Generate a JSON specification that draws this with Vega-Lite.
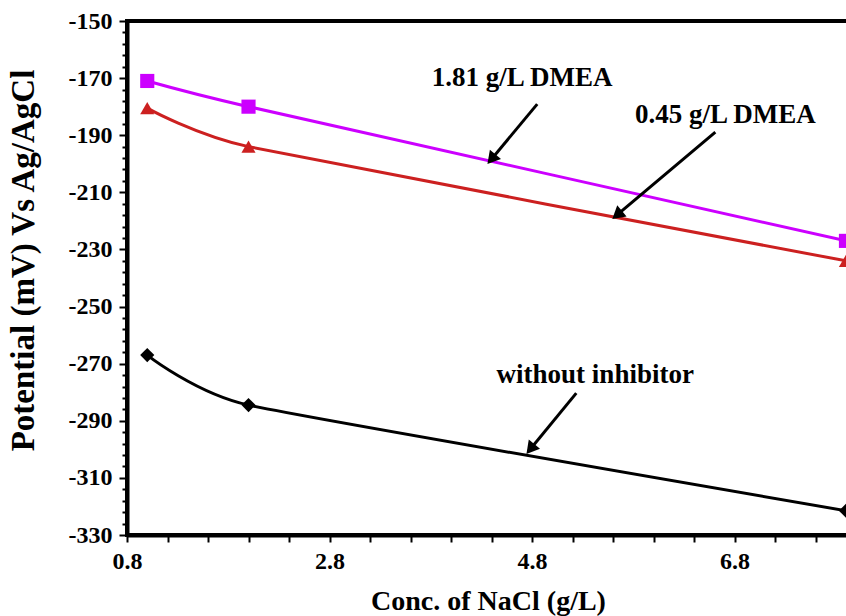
{
  "$schema": "https://vega.github.io/schema/vega-lite/v6.json",
  "width": 722,
  "height": 514,
  "autosize": {"type": "none"},
  "padding": {"left": 127, "top": 21, "right": 0, "bottom": 81},
  "background": "white",
  "config": {
    "view": {"stroke": "black", "strokeWidth": 4},
    "axis": {
      "domainColor": "black",
      "domainWidth": 4,
      "tickColor": "black",
      "tickWidth": 2,
      "grid": false,
      "labelFont": "Liberation Serif",
      "labelFontWeight": "bold",
      "labelFontSize": 24,
      "labelColor": "black",
      "labelOverlap": false,
      "labelFlush": false,
      "titleFont": "Liberation Serif",
      "titleFontWeight": "bold",
      "titleFontSize": 28,
      "titleColor": "black"
    }
  },
  "datasets": {
    "series": [
      {"conc": 1, "E": -171, "s": "1.81 g/L DMEA"},
      {"conc": 2, "E": -180, "s": "1.81 g/L DMEA"},
      {"conc": 7.9, "E": -227, "s": "1.81 g/L DMEA"},
      {"conc": 1, "E": -180.5, "s": "0.45 g/L DMEA"},
      {"conc": 2, "E": -194, "s": "0.45 g/L DMEA"},
      {"conc": 7.9, "E": -234, "s": "0.45 g/L DMEA"},
      {"conc": 1, "E": -267, "s": "without inhibitor"},
      {"conc": 2, "E": -284.5, "s": "without inhibitor"},
      {"conc": 7.9, "E": -321.5, "s": "without inhibitor"}
    ],
    "notes": [
      {"label": "1.81 g/L DMEA", "lx": 4.703, "ly": -170, "x1": 4.851, "y1": -179.1, "x2": 4.399, "y2": -198.4, "angle": 219.7},
      {"label": "0.45 g/L DMEA", "lx": 6.709, "ly": -182.9, "x1": 6.61, "y1": -188.9, "x2": 5.64, "y2": -217.9, "angle": 229.9},
      {"label": "without inhibitor", "lx": 5.424, "ly": -274, "x1": 5.237, "y1": -280.3, "x2": 4.784, "y2": -299.9, "angle": 219.2}
    ]
  },
  "layer": [
    {
      "data": {"name": "series"},
      "mark": {"type": "line", "interpolate": "cardinal", "tension": 0.55, "strokeWidth": 3},
      "encoding": {
        "x": {
          "field": "conc", "type": "quantitative",
          "scale": {"domain": [0.8, 7.93], "nice": false, "zero": false},
          "axis": {
            "title": "Conc. of NaCl (g/L)",
            "values": [0.8, 1.2, 1.6, 2.0, 2.4, 2.8, 3.2, 3.6, 4.0, 4.4, 4.8, 5.2, 5.6, 6.0, 6.4, 6.8, 7.2, 7.6],
            "tickCount": 1000,
            "labelExpr": "abs((datum.value - 0.8) / 2 - round((datum.value - 0.8) / 2)) < 0.01 ? format(datum.value, '.1f') : ''",
            "labelOverlap": false,
            "tickSize": 7,
            "labelPadding": 7,
            "titlePadding": 14
          }
        },
        "y": {
          "field": "E", "type": "quantitative",
          "scale": {"domain": [-330, -150], "nice": false, "zero": false},
          "axis": {
            "title": "Potential (mV) Vs Ag/AgCl",
            "titleFontSize": 33,
            "titleX": -104,
            "titleY": 239,
            "titleBaseline": "middle",
            "titleAlign": "center",
            "titleAngle": -90,
            "values": [-330, -326, -322, -318, -314, -310, -306, -302, -298, -294, -290, -286, -282, -278, -274, -270, -266, -262, -258, -254, -250, -246, -242, -238, -234, -230, -226, -222, -218, -214, -210, -206, -202, -198, -194, -190, -186, -182, -178, -174, -170, -166, -162, -158, -154, -150],
            "tickCount": 1000,
            "labelExpr": "abs((datum.value + 150) / 20 - round((datum.value + 150) / 20)) < 0.01 ? '' + datum.value : ''",
            "labelOverlap": false,
            "tickSize": {"condition": {"test": "abs((datum.value + 150) / 20 - round((datum.value + 150) / 20)) < 0.01", "value": 8}, "value": 5},
            "labelPadding": 7
          }
        },
        "color": {
          "field": "s", "type": "nominal",
          "scale": {"domain": ["1.81 g/L DMEA", "0.45 g/L DMEA", "without inhibitor"], "range": ["#cc00ff", "#cc2020", "#000000"]},
          "legend": null
        }
      }
    },
    {
      "data": {"name": "series"},
      "mark": {"type": "point", "filled": true, "opacity": 1, "size": 200},
      "encoding": {
        "x": {"field": "conc", "type": "quantitative"},
        "y": {"field": "E", "type": "quantitative"},
        "color": {"field": "s", "type": "nominal"},
        "shape": {
          "field": "s", "type": "nominal",
          "scale": {"domain": ["1.81 g/L DMEA", "0.45 g/L DMEA", "without inhibitor"], "range": ["square", "triangle-up", "diamond"]},
          "legend": null
        }
      }
    },
    {
      "data": {"name": "notes"},
      "mark": {"type": "text", "font": "Liberation Serif", "fontWeight": "bold", "fontSize": 27, "color": "black", "align": "center", "baseline": "middle"},
      "encoding": {
        "x": {"field": "lx", "type": "quantitative"},
        "y": {"field": "ly", "type": "quantitative"},
        "text": {"field": "label", "type": "nominal"}
      }
    },
    {
      "data": {"name": "notes"},
      "mark": {"type": "rule", "color": "black", "strokeWidth": 3},
      "encoding": {
        "x": {"field": "x1", "type": "quantitative"},
        "y": {"field": "y1", "type": "quantitative"},
        "x2": {"field": "x2"},
        "y2": {"field": "y2"}
      }
    },
    {
      "data": {"name": "notes"},
      "mark": {"type": "point", "shape": "triangle-up", "filled": true, "color": "black", "opacity": 1, "size": 210},
      "encoding": {
        "x": {"field": "x2", "type": "quantitative"},
        "y": {"field": "y2", "type": "quantitative"},
        "angle": {"field": "angle", "type": "quantitative", "scale": null}
      }
    }
  ]
}
